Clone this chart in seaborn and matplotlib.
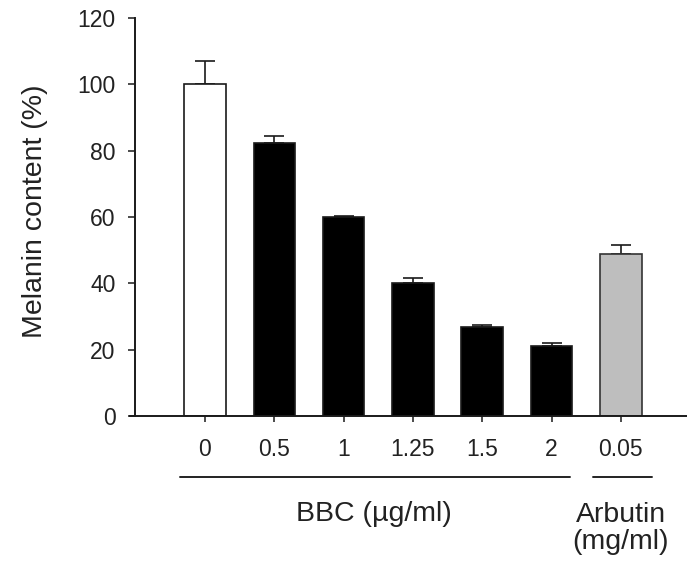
import numpy as np
import pandas as pd
import seaborn as sns
from matplotlib import pyplot as plt

# doses (first six BBC in ug/ml, last one arbutin in mg/ml)
doses = ['0', '0.5', '1', '1.25', '1.5', '2', '0.05']
melanin = [100.0, 82.3, 59.9, 40.0, 26.7, 21.2, 48.8]
sem = [7.0, 2.0, 0.5, 1.5, 0.6, 0.9, 2.7]
bar_colors = ['white', 'black', 'black', 'black', 'black', 'black', '#bebebe']

df = pd.DataFrame({'dose': doses, 'melanin': melanin, 'sem': sem})

sns.set_style('ticks')
plt.rcParams['font.family'] = ['Liberation Sans', 'DejaVu Sans']
TXT = '#222222'

W, H = 687, 563
fig = plt.figure(figsize=(W / 100, H / 100), dpi=100)
# axes box in pixels: left 130, right 687, y=0 at 416, y=120 at 18
ax = fig.add_axes([130 / W, (H - 416) / H, (W - 130) / W, (416 - 18) / H])

sns.barplot(data=df, x='dose', y='melanin', hue='dose', order=doses, hue_order=doses,
            palette=bar_colors, width=0.6, edgecolor='#1a1a1a', linewidth=1.2,
            legend=False, ax=ax)
ax.patches[-1].set_edgecolor('#333333')

# upward error bars only, drawn under the bars
ax.errorbar(np.arange(len(doses)), df['melanin'], yerr=[np.zeros(len(doses)), df['sem']],
            fmt='none', ecolor='#1a1a1a', elinewidth=1.2, capsize=7, capthick=1.2, zorder=0.5)

ax.set_ylim(0, 120)
ax.set_yticks(range(0, 121, 20))
ax.set_xlim(-1.082, 6.955)

for s in ['top', 'right']:
    ax.spines[s].set_visible(False)
ax.spines['left'].set_position(('axes', 5 / 557))
for s in ['left', 'bottom']:
    ax.spines[s].set_linewidth(1.4)
    ax.spines[s].set_color('#1a1a1a')

ax.tick_params(axis='y', direction='out', length=5, width=1.1, pad=9,
               labelsize=16.5, labelcolor=TXT, color='#1a1a1a')
ax.tick_params(axis='x', direction='out', length=4.5, width=1.1, pad=11,
               labelsize=16.5, labelcolor=TXT, color='#1a1a1a')

ax.set_xlabel('')
ax.set_ylabel('Melanin content (%)', fontsize=20.5, color=TXT, va='center')
ax.yaxis.set_label_coords((35 - 130) / 557, (416 - 211) / 398)

# group underlines and group labels below the tick labels
tr = ax.get_xaxis_transform()
ax.plot([-0.36, 5.27], [-0.153, -0.153], color='#222222', lw=1.4, transform=tr, clip_on=False)
ax.plot([5.6, 6.45], [-0.153, -0.153], color='#222222', lw=1.4, transform=tr, clip_on=False)
ax.text(2.44, -0.246, 'BBC (µg/ml)', transform=tr, ha='center', va='center',
        fontsize=20.5, color=TXT)
ax.text(6.0, -0.283, 'Arbutin\n(mg/ml)', transform=tr, ha='center', va='center',
        fontsize=20.5, color=TXT, linespacing=1.05)

fig.savefig('out.png', dpi=100)
